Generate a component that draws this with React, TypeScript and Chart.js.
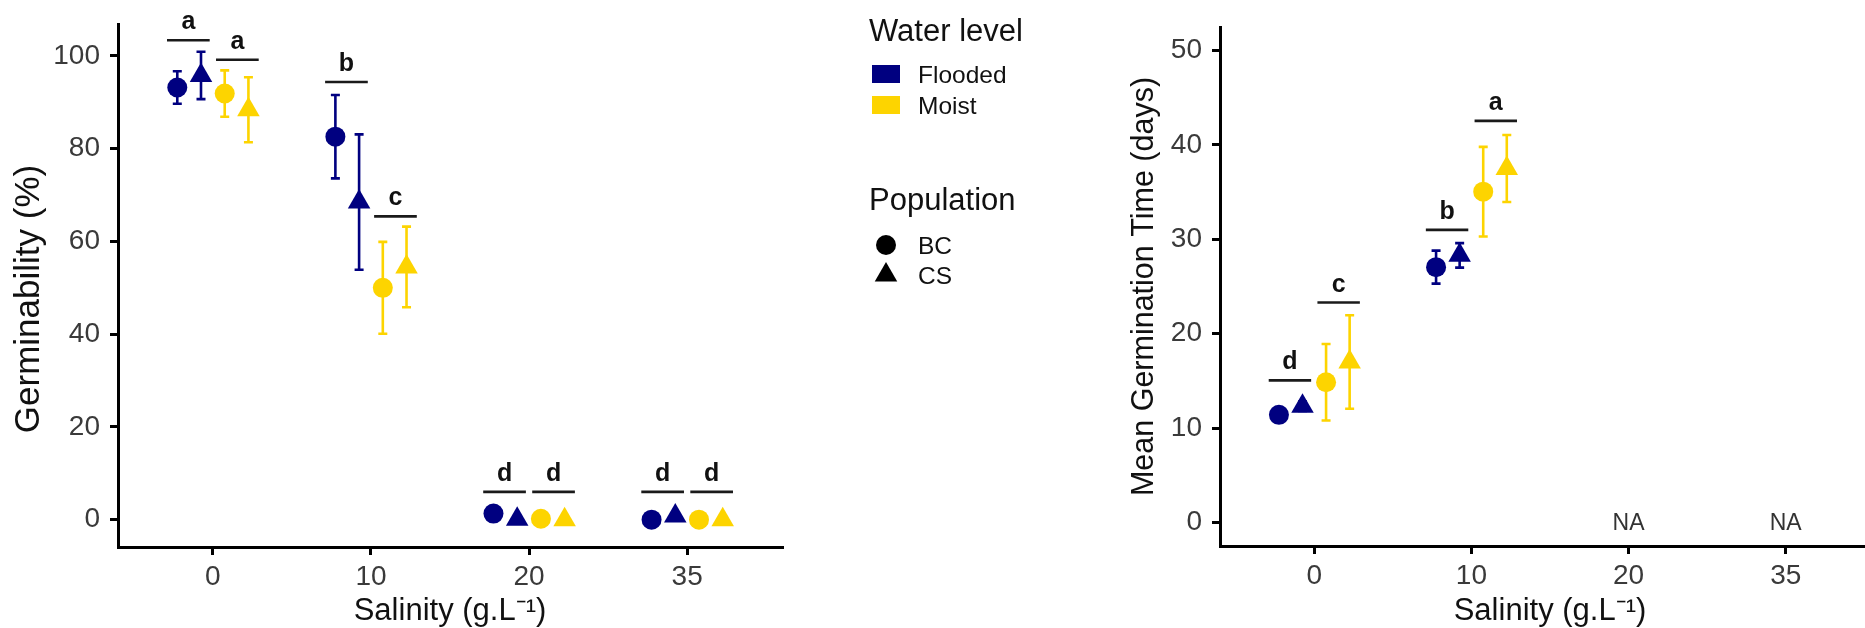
import React, { useEffect, useRef } from "react";
import { Chart, registerables } from "chart.js";

Chart.register(...registerables);

// ---------- data ----------
const categories = ["0", "10", "20", "35"];
const germTicks = [0, 20, 40, 60, 80, 100];
const mgtTicks = [0, 10, 20, 30, 40, 50];

// Germinability (%) — mean and error per salinity level
const germFloodedBC = [93.2, 82.6, 1.3, 0.0];
const germFloodedBCErr = [3.5, 9.0, 1.2, 0.0];
const germFloodedCS = [95.8, 68.5, 0.1, 0.8];
const germFloodedCSErr = [5.1, 14.6, 0.0, 0.6];
const germMoistBC = [91.9, 50.0, 0.2, 0.0];
const germMoistBCErr = [5.0, 9.9, 0.0, 0.0];
const germMoistCS = [88.4, 54.5, 0.0, 0.0];
const germMoistCSErr = [7.0, 8.7, 0.0, 0.0];

// Mean Germination Time (days)
const mgtFloodedBC = [11.4, 27.05, null, null];
const mgtFloodedBCErr = [0.4, 1.75, null, null];
const mgtFloodedCS = [12.3, 28.3, null, null];
const mgtFloodedCSErr = [0.5, 1.3, null, null];
const mgtMoistBC = [14.85, 35.05, null, null];
const mgtMoistBCErr = [4.05, 4.75, null, null];
const mgtMoistCS = [17.0, 37.5, null, null];
const mgtMoistCSErr = [4.95, 3.55, null, null];

// significance letters: [flooded, moist] per salinity level
const germLetters = [["a", "a"], ["b", "c"], ["d", "d"], ["d", "d"]];
const germLetterY = [[103.4, 99.2], [94.4, 65.4], [6.0, 6.0], [6.0, 6.0]];
const mgtLetters = [["d", "c"], ["b", "a"], [null, null], [null, null]];
const mgtLetterY = [[15.05, 23.3], [31.0, 42.55], [null, null], [null, null]];

const waterLevels = ["Flooded", "Moist"];
const populations = ["BC", "CS"];

// ---------- style ----------
const FONT = "'Liberation Sans', Arial, Helvetica, sans-serif";
const NAVY = "#000080";
const GOLD = "#FDD400";
const TICK_COLOR = "#3a3a3a";
const DODGE = { floodedBC: -0.225, floodedCS: -0.075, moistBC: 0.075, moistCS: 0.225 };
const SPAN = [[-0.29, -0.02], [0.02, 0.29]];

type Pt = { x: number; y: number; err: number };

function makeSeries(vals: (number | null)[], errs: (number | null)[], off: number): Pt[] {
  const out: Pt[] = [];
  vals.forEach((v, i) => {
    if (v !== null && v !== undefined) out.push({ x: i + off, y: v, err: (errs[i] as number) || 0 });
  });
  return out;
}

function datasets(fBC, fBCe, fCS, fCSe, mBC, mBCe, mCS, mCSe) {
  const mk = (label, data, color, style, r) => ({
    label,
    data,
    backgroundColor: color,
    borderColor: color,
    borderWidth: 0,
    pointStyle: style,
    pointRadius: r,
    pointHoverRadius: r,
    showLine: false,
  });
  return [
    mk("Flooded BC", makeSeries(fBC, fBCe, DODGE.floodedBC), NAVY, "circle", 10),
    mk("Flooded CS", makeSeries(fCS, fCSe, DODGE.floodedCS), NAVY, "triangle", 13),
    mk("Moist BC", makeSeries(mBC, mBCe, DODGE.moistBC), GOLD, "circle", 10),
    mk("Moist CS", makeSeries(mCS, mCSe, DODGE.moistCS), GOLD, "triangle", 13),
  ];
}

const errorBarPlugin = {
  id: "errorBars",
  beforeDatasetsDraw(chart) {
    const { ctx, scales } = chart;
    const xs = scales.x, ys = scales.y;
    ctx.save();
    chart.data.datasets.forEach((ds) => {
      ctx.strokeStyle = ds.borderColor;
      ctx.lineWidth = 2.6;
      ds.data.forEach((p: Pt) => {
        if (!p.err) return;
        const x = xs.getPixelForValue(p.x);
        const y0 = ys.getPixelForValue(p.y - p.err);
        const y1 = ys.getPixelForValue(p.y + p.err);
        ctx.beginPath();
        ctx.moveTo(x, y0);
        ctx.lineTo(x, y1);
        ctx.moveTo(x - 4.5, y0);
        ctx.lineTo(x + 4.5, y0);
        ctx.moveTo(x - 4.5, y1);
        ctx.lineTo(x + 4.5, y1);
        ctx.stroke();
      });
    });
    ctx.restore();
  },
};

const signifPlugin = {
  id: "signif",
  afterDatasetsDraw(chart, _args, opts) {
    if (!opts || !opts.letters) return;
    const { ctx, scales } = chart;
    const xs = scales.x, ys = scales.y;
    ctx.save();
    ctx.strokeStyle = "#1a1a1a";
    ctx.fillStyle = "#111";
    ctx.lineWidth = 2.6;
    ctx.font = `bold 25px ${FONT}`;
    ctx.textAlign = "center";
    ctx.textBaseline = "alphabetic";
    opts.letters.forEach((pair, i) => {
      pair.forEach((letter, g) => {
        const yv = opts.ys[i][g];
        if (!letter || yv === null) return;
        const x0 = xs.getPixelForValue(i + SPAN[g][0]);
        const x1 = xs.getPixelForValue(i + SPAN[g][1]);
        const y = ys.getPixelForValue(yv);
        ctx.beginPath();
        ctx.moveTo(x0, y);
        ctx.lineTo(x1, y);
        ctx.stroke();
        ctx.fillText(letter, (x0 + x1) / 2, y - 11);
      });
    });
    if (opts.na) {
      ctx.font = `23px ${FONT}`;
      ctx.fillStyle = "#333";
      opts.na.forEach((isNA, i) => {
        if (!isNA) return;
        ctx.fillText("NA", xs.getPixelForValue(i), ys.getPixelForValue(0) + 8);
      });
    }
    ctx.restore();
  },
};

const yTitlePlugin = {
  id: "yTitle",
  afterDraw(chart, _args, opts) {
    if (!opts || !opts.text) return;
    const { ctx } = chart;
    ctx.save();
    ctx.fillStyle = "#111";
    ctx.font = `${opts.size}px ${FONT}`;
    ctx.textAlign = "center";
    ctx.textBaseline = "alphabetic";
    ctx.translate(opts.x, opts.cy);
    ctx.rotate(-Math.PI / 2);
    ctx.fillText(opts.text, 0, 0);
    ctx.restore();
  },
};

const legendPlugin = {
  id: "customLegend",
  afterDraw(chart, _args, opts) {
    if (!opts || !opts.show) return;
    const { ctx } = chart;
    ctx.save();
    ctx.textAlign = "left";
    ctx.textBaseline = "alphabetic";
    ctx.fillStyle = "#111";
    ctx.font = `31px ${FONT}`;
    ctx.fillText("Water level", 869, 41);
    const keyColors = [NAVY, GOLD];
    waterLevels.forEach((w, i) => {
      ctx.fillStyle = keyColors[i];
      ctx.fillRect(872, 65 + i * 31, 28, 18);
      ctx.fillStyle = "#111";
      ctx.font = `24.5px ${FONT}`;
      ctx.fillText(w, 918, 83 + i * 31);
    });
    ctx.font = `31px ${FONT}`;
    ctx.fillText("Population", 869, 210);
    populations.forEach((p, i) => {
      const cy = 245 + i * 30;
      ctx.fillStyle = "#000";
      ctx.beginPath();
      if (i === 0) {
        ctx.arc(886, cy, 10, 0, Math.PI * 2);
      } else {
        const r = 13;
        ctx.moveTo(886, cy - r);
        ctx.lineTo(886 + r * Math.sin((2 * Math.PI) / 3), cy + r / 2);
        ctx.lineTo(886 - r * Math.sin((2 * Math.PI) / 3), cy + r / 2);
        ctx.closePath();
      }
      ctx.fill();
      ctx.fillStyle = "#111";
      ctx.font = `24.5px ${FONT}`;
      ctx.fillText(p, 918, cy + 9);
    });
    ctx.restore();
  },
};

function buildConfig(opts) {
  return {
    type: "scatter",
    data: { datasets: opts.datasets },
    options: {
      animation: false,
      responsive: false,
      devicePixelRatio: 1,
      events: [],
      layout: { padding: opts.padding },
      plugins: {
        legend: { display: false },
        tooltip: { enabled: false },
        signif: { letters: opts.letters, ys: opts.letterY, na: opts.na },
        customLegend: { show: opts.legend },
        yTitle: opts.yTitle,
      },
      scales: {
        x: {
          type: "linear",
          min: -0.6,
          max: 3.6,
          afterBuildTicks: (s) => {
            s.ticks = categories.map((_, i) => ({ value: i }));
          },
          afterFit: (s) => {
            s.height = opts.xHeight;
          },
          ticks: {
            callback: (v) => categories[v],
            autoSkip: false,
            maxRotation: 0,
            color: TICK_COLOR,
            padding: 8,
            font: { family: FONT, size: 28, lineHeight: 1 },
          },
          grid: {
            drawOnChartArea: false,
            drawTicks: true,
            tickLength: 8,
            tickWidth: 3,
            tickColor: "#000",
            color: "#000",
            lineWidth: 3,
          },
          border: { display: true, color: "#000", width: 3 },
          title: {
            display: true,
            text: "Salinity (g.L⁻¹)",
            color: "#111",
            font: { family: FONT, size: 31, lineHeight: 1 },
            padding: { top: 0, bottom: 1.5 },
          },
        },
        y: {
          type: "linear",
          min: opts.yMin,
          max: opts.yMax,
          afterBuildTicks: (s) => {
            s.ticks = opts.yTicks.map((v) => ({ value: v }));
          },
          afterFit: (s) => {
            s.width = opts.yWidth;
          },
          ticks: {
            color: TICK_COLOR,
            padding: 10,
            font: { family: FONT, size: 28, lineHeight: 1 },
          },
          grid: {
            drawOnChartArea: false,
            drawTicks: true,
            tickLength: 8,
            tickWidth: 3,
            tickColor: "#000",
            color: "#000",
            lineWidth: 3,
          },
          border: { display: true, color: "#000", width: 3 },
          title: { display: false },
        },
      },
    },
    plugins: [errorBarPlugin, signifPlugin, legendPlugin, yTitlePlugin],
  };
}

export default function App() {
  const leftRef = useRef<HTMLCanvasElement>(null);
  const rightRef = useRef<HTMLCanvasElement>(null);

  useEffect(() => {
    const left = new Chart(
      leftRef.current!,
      buildConfig({
        datasets: datasets(
          germFloodedBC, germFloodedBCErr, germFloodedCS, germFloodedCSErr,
          germMoistBC, germMoistBCErr, germMoistCS, germMoistCSErr
        ),
        padding: { left: 0, top: 15, right: 328, bottom: 0 },
        xHeight: 81,
        yMin: -5.9,
        yMax: 106.9,
        yTicks: germTicks,
        yWidth: 118,
        yTitle: { text: "Germinability (%)", size: 35, x: 39, cy: 299 },
        letters: germLetters,
        letterY: germLetterY,
        na: null,
        legend: true,
      }) as any
    );
    const naFlags = categories.map(
      (_, i) => [mgtFloodedBC, mgtFloodedCS, mgtMoistBC, mgtMoistCS].every((s) => s[i] === null)
    );
    const right = new Chart(
      rightRef.current!,
      buildConfig({
        datasets: datasets(
          mgtFloodedBC, mgtFloodedBCErr, mgtFloodedCS, mgtFloodedCSErr,
          mgtMoistBC, mgtMoistBCErr, mgtMoistCS, mgtMoistCSErr
        ),
        padding: { left: 0, top: 27, right: 45, bottom: 0 },
        xHeight: 82,
        yMin: -2.5,
        yMax: 52.5,
        yTicks: mgtTicks,
        yWidth: 110,
        yTitle: { text: "Mean Germination Time (days)", size: 30.5, x: 43, cy: 286.5 },
        letters: mgtLetters,
        letterY: mgtLetterY,
        na: naFlags,
        legend: false,
      }) as any
    );
    return () => {
      left.destroy();
      right.destroy();
    };
  }, []);

  return (
    <div
      style={{
        position: "absolute",
        left: 0,
        top: 0,
        width: 1865,
        height: 628,
        background: "#fff",
        overflow: "hidden",
      }}
    >
      <canvas
        ref={leftRef}
        width={1110}
        height={628}
        style={{ position: "absolute", left: 0, top: 0, width: 1110, height: 628 }}
      />
      <canvas
        ref={rightRef}
        width={815}
        height={628}
        style={{ position: "absolute", left: 1110, top: 0, width: 815, height: 628 }}
      />
    </div>
  );
}
